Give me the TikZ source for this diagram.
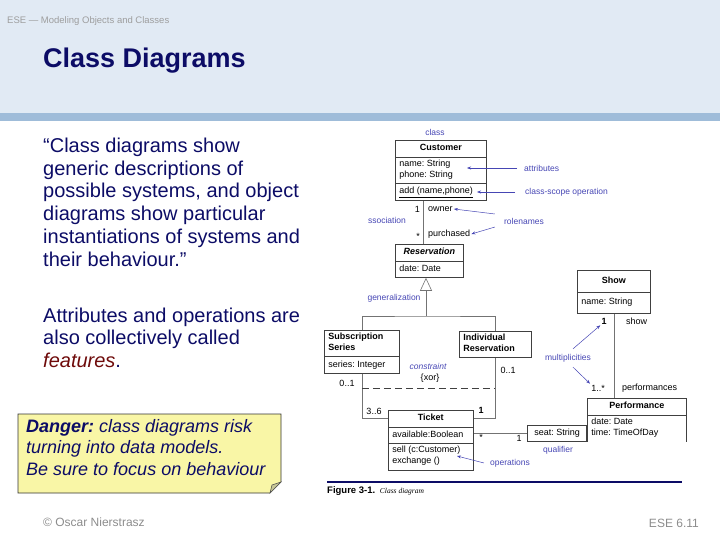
\documentclass[tikz,border=0pt]{standalone}
\usepackage{fontspec}
\setmainfont{Liberation Sans}
\newfontfamily\captionserif{Liberation Serif}
\usetikzlibrary{positioning}
\usetikzlibrary{calc}
\usetikzlibrary{shapes.multipart}
\usetikzlibrary{arrows.meta}
\frenchspacing

\definecolor{headerbg}{HTML}{E1EAF4}
\definecolor{headerbar}{HTML}{9FBCD9}
\definecolor{slidenavy}{HTML}{0C0C66}
\definecolor{featred}{HTML}{6E0A0A}
\definecolor{noteyellow}{HTML}{F9F6A6}
\definecolor{noteblue}{HTML}{4646B4}
\definecolor{footgray}{HTML}{8C8C8C}

\newcommand{\diagfont}{\fontsize{9}{11}\selectfont}
\newcommand{\annofont}{\fontsize{8.5}{10}\selectfont}

\begin{document}
\begin{tikzpicture}[x=1pt, y=-1pt,
  umlclass/.style={rectangle split, rectangle split parts=#1, draw=black!75, line width=0.6pt,
    inner xsep=4pt, inner ysep=2.5pt, font=\diagfont, align=left, anchor=north west,
    rectangle split part align={center,left,left}, execute at begin node=\strut},
  assoc/.style={draw=black!55, line width=0.6pt},
  mult/.style={font=\diagfont, inner sep=1pt},
  anno/.style={font=\annofont, text=noteblue, inner sep=1pt},
  annoarrow/.style={draw=noteblue, line width=0.5pt, -{Stealth[length=4pt,width=3pt]}},
  slidetext/.style={font=\fontsize{20}{22.8}\selectfont, text=slidenavy, align=left, anchor=north west, inner sep=0pt}]
	\useasboundingbox (0,0) rectangle (720,540);
	% slide header
	\fill[headerbg] (0,0) rectangle (720,113);
	\fill[headerbar] (0,113) rectangle (720,121);
	\node[anchor=base west, inner sep=0pt, font=\fontsize{9.5}{11}\selectfont, text=black!38] (runhead) at (7,24) {ESE — Modeling Objects and Classes};
	\node[anchor=base west, inner sep=0pt, font=\fontsize{27}{32}\selectfont\bfseries, text=slidenavy] (title) at (43,68) {Class Diagrams};
	% slide text
	\node[slidetext] (quote) at (43,137.6) {“Class diagrams show\\generic descriptions of\\possible systems, and object\\diagrams show particular\\instantiations of systems and\\their behaviour.”};
	\node[slidetext] (features) at (43,307.4) {Attributes and operations are\\also collectively called\\\textcolor{featred}{\textit{features}}.};
	\fill[noteyellow] (18,414) -- (281,414) -- (281,482) -- (270,493) -- (18,493) -- cycle;
	\draw[black!80, line width=0.6pt] (18,414) -- (281,414) -- (281,482) -- (270,493) -- (18,493) -- cycle;
	\filldraw[fill=noteyellow!60!gray, draw=black!70, line width=0.5pt] (270,493) -- (272,485) -- (281,482) -- cycle;
	\node[slidetext, font=\fontsize{18}{21.5}\selectfont\itshape] (danger) at (26,418.9) {\textbf{Danger:} class diagrams risk\\turning into data models.\\Be sure to focus on behaviour};
	\node[anchor=base west, inner sep=0pt, font=\fontsize{12}{14}\selectfont, text=footgray] (author) at (43,526) {© Oscar Nierstrasz};
	\node[anchor=base east, inner sep=0pt, font=\fontsize{12}{14}\selectfont, text=footgray] (pagenum) at (699,527) {ESE 6.11};
	% class diagram
	\node[umlclass=3, minimum width=91pt] (customer) at (395,140) {\textbf{Customer}\nodepart{second}name: String\\phone: String\nodepart{third}\underline{add (name,phone)}};
	\node[umlclass=2, minimum width=68pt] (reservation) at (395,244) {\textbf{\textit{Reservation}}\nodepart{second}date: Date};
	\node[umlclass=2, minimum width=75pt, rectangle split part align={left,left}] (subseries) at (324,330) {\textbf{Subscription}\\\textbf{Series}\nodepart{second}series: Integer};
	\node[umlclass=1, minimum width=72pt, rectangle split part align={left}] (indres) at (459,331) {\textbf{Individual}\\\textbf{Reservation}};
	\node[umlclass=3, minimum width=85pt] (ticket) at (388,410) {\textbf{Ticket}\nodepart{second}available:Boolean\nodepart{third}sell (c:Customer)\\exchange ()};
	\node[umlclass=2, minimum width=73pt, inner ysep=5pt] (show) at (577,270) {\textbf{Show}\nodepart{second}name: String};
	\node[umlclass=2, minimum width=99pt, draw=none] (perf) at (587,398) {\textbf{Performance}\nodepart{second}date: Date\\time: TimeOfDay};
	\draw[black!75, line width=0.6pt] (perf.south west) -- (perf.north west) -- (perf.north east) -- (perf.south east);
	\draw[black!75, line width=0.6pt] (perf.text split west) -- (perf.text split east);
	\node[draw=black!75, line width=0.6pt, font=\diagfont, inner xsep=4pt, inner ysep=2.5pt, anchor=south east, minimum width=59pt, execute at begin node=\strut] (seat) at (perf.south west) {seat: String};
	% connectors
	\coordinate (genbar) at (426,316);
	\draw[assoc] (subseries.north) |- (genbar) -| (indres.north);
	\draw[assoc, -{Triangle[open, length=13pt, width=12pt]}] (genbar) -- (genbar |- reservation.south);
	\draw[assoc] ($(customer.south west)+(28,0)$) -- ($(reservation.north west)+(28,0)$);
	\coordinate (ticketrow) at ($(ticket.north west)!.5!(ticket.text split west)$);
	\draw[assoc] (subseries.south) |- (ticketrow);
	\draw[assoc] (indres.south) |- (ticketrow -| ticket.east);
	\coordinate (xorbar) at (428,388);
	\draw[assoc, draw=black!75, dash pattern=on 7pt off 4pt] (xorbar -| subseries.south) -- (xorbar -| indres.south);
	\draw[assoc] (seat.west) -- (seat.west -| ticket.east);
	\draw[assoc] (show.south) -- (show.south |- perf.north);
	% multiplicities and role names
	\node[mult, anchor=east] (custone) at (421,209) {1};
	\node[mult, anchor=west] (owner) at (427,209) {owner};
	\node[mult, anchor=east] (resstar) at (421,236) {*};
	\node[mult, anchor=west] (purchased) at (427,234) {purchased};
	\node[mult] (subsmult) at (347,383) {0..1};
	\node[mult] (subsrange) at (374,411) {3..6};
	\node[mult] (indmult) at (508,370) {0..1};
	\node[mult] (ticketone) at (481,410) {\textbf{1}};
	\node[mult] (xor) at (430,378) {\{xor\}};
	\node[mult] (qualstar) at (481,437) {*};
	\node[mult] (qualone) at (519,438) {1};
	\node[mult] (showone) at (604,321) {\textbf{1}};
	\node[mult, anchor=west] (showrole) at (625,321) {show};
	\node[mult] (perfmany) at (598,388) {1..*};
	\node[mult, anchor=west] (perfrole) at (621,388) {performances};
	% annotations
	\node[anno] (classnote) at (435,132) {class};
	\node[anno, anchor=west] (attrnote) at (523,168) {attributes};
	\coordinate (attrtip) at (467,168);
	\draw[annoarrow] ([xshift=-6pt]attrnote.west) -- (attrtip);
	\node[anno, anchor=west] (opnote) at (524,192) {class-scope operation};
	\coordinate (optip) at (477,192);
	\draw[annoarrow] ([xshift=-9pt]opnote.west) -- (optip);
	\node[anno] (assocnote) at (387,220) {ssociation};
	\node[anno] (rolenote) at (524,221) {rolenames};
	\draw[annoarrow] ([shift={(-8,-7)}]rolenote.west) -- (owner.east);
	\draw[annoarrow] ([shift={(-8,6)}]rolenote.west) -- (purchased.east);
	\node[anno] (gennote) at (394,298) {generalization};
	\node[anno, font=\annofont\itshape] (constrnote) at (428,366) {constraint};
	\node[anno] (multnote) at (568,358) {multiplicities};
	\draw[annoarrow] ([shift={(5,-4)}]multnote.north) -- (showone.south west);
	\draw[annoarrow] ([shift={(5,4)}]multnote.south) -- (perfmany.north west);
	\node[anno] (qualnote) at (558,450) {qualifier};
	\node[anno] (opsnote) at (510,463) {operations};
	\coordinate (opstip) at (457,456);
	\draw[annoarrow] ([xshift=-5pt]opsnote.west) -- (opstip);
	% figure caption
	\draw[slidenavy, line width=1.3pt] (327,482) -- (682,482);
	\node[anchor=base west, inner sep=0pt, font=\fontsize{9.5}{11}\selectfont] (caption) at (327,493) {\textbf{Figure 3-1.}\enspace{\captionserif\itshape\fontsize{7.5}{9}\selectfont Class diagram}};
\end{tikzpicture}
\end{document}
